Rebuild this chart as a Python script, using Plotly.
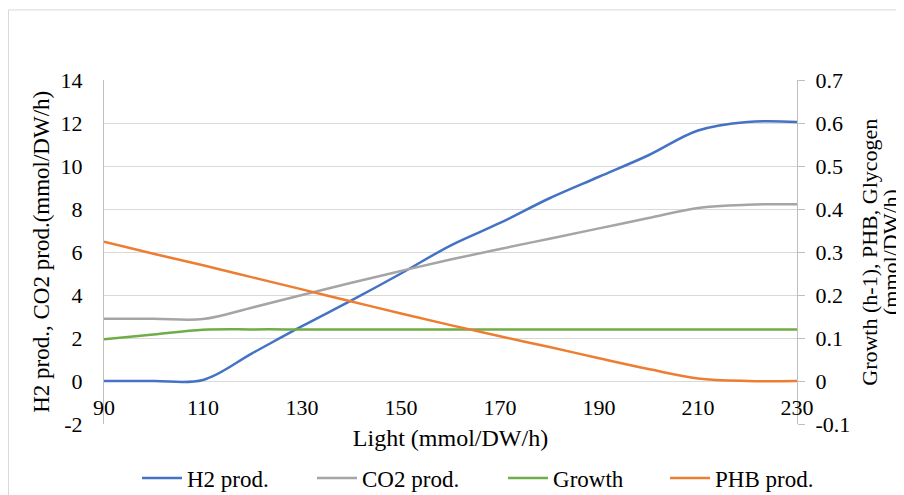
import plotly.graph_objects as go

light = [90, 100, 110, 120, 130, 140, 150, 160, 170, 180, 190, 200, 210, 220, 230]
h2_prod = [0, 0, 0.05, 1.3, 2.55, 3.75, 5.0, 6.3, 7.35, 8.5, 9.5, 10.5, 11.65, 12.05, 12.05]
co2_prod = [2.9, 2.9, 2.88, 3.42, 4.0, 4.57, 5.12, 5.65, 6.14, 6.62, 7.1, 7.58, 8.05, 8.2, 8.22]
growth = [0.097, 0.108, 0.119, 0.12, 0.12, 0.12, 0.12, 0.12, 0.12, 0.12, 0.12, 0.12, 0.12, 0.12, 0.12]
phb_prod = [0.324, 0.296, 0.269, 0.241, 0.213, 0.185, 0.157, 0.13, 0.104, 0.079, 0.053, 0.028, 0.006, 0.0, 0.0]

x_ticks = [90, 110, 130, 150, 170, 190, 210, 230]
y1_ticks = [-2, 0, 2, 4, 6, 8, 10, 12, 14]
y2_ticks = [-0.1, 0, 0.1, 0.2, 0.3, 0.4, 0.5, 0.6, 0.7]
y2_text = ["-0.1", "0", "0.1", "0.2", "0.3", "0.4", "0.5", "0.6", "0.7"]

FONT = "Liberation Serif"
TICK = 22
LEG = 23
fig = go.Figure()
fig.add_trace(go.Scatter(x=light, y=h2_prod, name="H2 prod.", mode="lines", legend="legend",
                         line=dict(color="#4472C4", width=2.5, shape="spline")))
fig.add_trace(go.Scatter(x=light, y=co2_prod, name="CO2 prod.", mode="lines", legend="legend2",
                         line=dict(color="#A5A5A5", width=2.5, shape="spline")))
fig.add_trace(go.Scatter(x=light, y=growth, name="Growth", mode="lines", yaxis="y2", legend="legend3",
                         line=dict(color="#70AD47", width=2.5, shape="spline")))
fig.add_trace(go.Scatter(x=light, y=phb_prod, name="PHB prod.", mode="lines", yaxis="y2", legend="legend4",
                         line=dict(color="#ED7D31", width=2.5, shape="spline")))


def leg(xc):
    return dict(orientation="h", x=xc, xanchor="left", xref="container",
                y=0.0505, yanchor="middle", yref="container", itemwidth=40,
                font=dict(family=FONT, size=LEG, color="black"), bgcolor="rgba(0,0,0,0)")


fig.update_layout(
    width=904, height=495,
    margin=dict(l=96, r=115, t=72, b=79),
    paper_bgcolor="white", plot_bgcolor="white",
    font=dict(family=FONT, size=TICK, color="black"),
    showlegend=True,
    legend=leg(0.1427), legend2=leg(0.3363), legend3=leg(0.5476), legend4=leg(0.7268),
    xaxis=dict(range=[90, 230], tickvals=x_ticks, showgrid=False, zeroline=False,
               showline=False, ticks="", anchor="free", position=0.094, automargin=False,
               tickfont=dict(family=FONT, size=TICK, color="black"),
               title=dict(text="Light (mmol/DW/h)", font=dict(family=FONT, size=24, color="black"),
                          standoff=10)),
    yaxis=dict(range=[-2, 14], tickvals=y1_ticks, ticktext=[str(v) for v in y1_ticks],
               showgrid=True, gridcolor="#D9D9D9", gridwidth=1, zeroline=False,
               showline=True, linecolor="#BFBFBF", linewidth=1, ticks="", automargin=False,
               tickfont=dict(family=FONT, size=TICK, color="black"), ticklabelstandoff=16),
    yaxis2=dict(range=[-0.1, 0.7], tickvals=y2_ticks, ticktext=y2_text, overlaying="y",
                side="right", showgrid=False, zeroline=False, showline=True, automargin=False,
                linecolor="#BFBFBF", linewidth=1, ticks="outside", ticklen=7,
                tickcolor="#BFBFBF", tickfont=dict(family=FONT, size=TICK, color="black"),
                ticklabelstandoff=6),
)

fig.add_annotation(text="H2 prod., CO2 prod.(mmol/DW/h)", xref="paper", yref="paper",
                   x=-0.0895, y=0.5007, xanchor="center", yanchor="middle", textangle=-90,
                   showarrow=False, font=dict(family=FONT, size=23, color="black"))
fig.add_annotation(text="Growth (h-1), PHB, Glycogen", xref="paper", yref="paper",
                   x=1.1053, y=0.5007, xanchor="center", yanchor="middle", textangle=-90,
                   showarrow=False, font=dict(family=FONT, size=22, color="black"))
fig.add_annotation(text="(mmol/DW/h)", xref="paper", yref="paper",
                   x=1.1346, y=0.5007, xanchor="center", yanchor="middle", textangle=-90,
                   showarrow=False, font=dict(family=FONT, size=22, color="black"))

fig.add_shape(type="rect", xref="paper", yref="paper", x0=-0.1378, x1=1.2, y0=-0.26, y1=1.2038,
              line=dict(color="#D9D9D9", width=1), fillcolor="rgba(0,0,0,0)", layer="below")

fig.write_html("out.html")
